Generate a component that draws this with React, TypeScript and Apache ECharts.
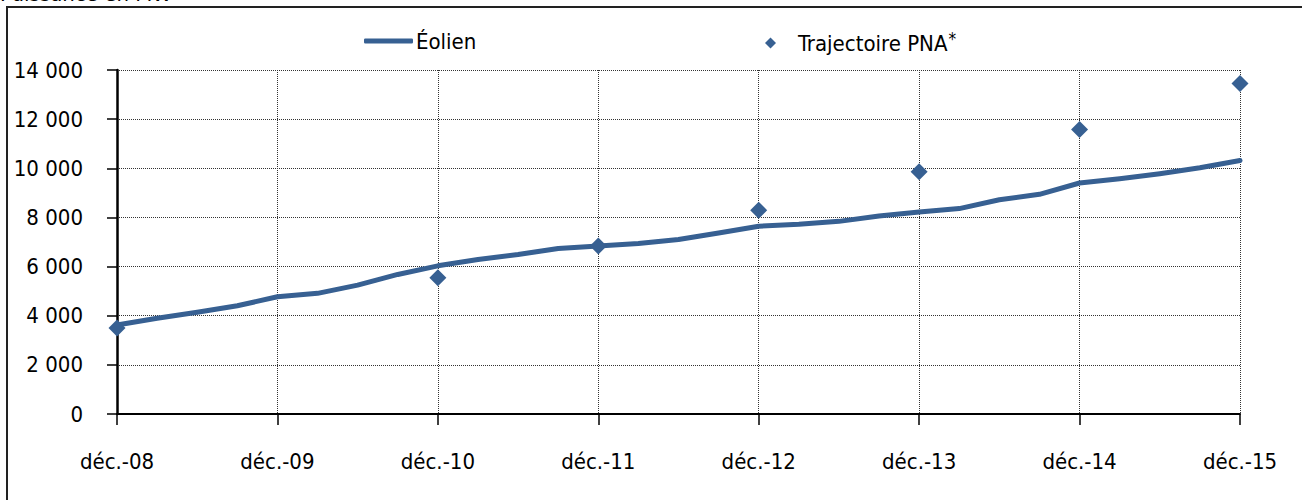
import React, { useEffect, useRef } from "react";
import * as echarts from "echarts";

const quarters = [
  "déc.-08", "mars-09", "juin-09", "sept.-09",
  "déc.-09", "mars-10", "juin-10", "sept.-10",
  "déc.-10", "mars-11", "juin-11", "sept.-11",
  "déc.-11", "mars-12", "juin-12", "sept.-12",
  "déc.-12", "mars-13", "juin-13", "sept.-13",
  "déc.-13", "mars-14", "juin-14", "sept.-14",
  "déc.-14", "mars-15", "juin-15", "sept.-15",
  "déc.-15",
];

const eolien = [
  3620, 3895, 4140, 4405,
  4770, 4910, 5245, 5680,
  6030, 6290, 6490, 6735,
  6840, 6940, 7100, 7370,
  7640, 7720, 7840, 8060,
  8220, 8360, 8720, 8940,
  9400, 9575, 9780, 10020,
  10320,
];

// Trajectoire PNA: only at some December points ("-" = no value)
const pna: (number | string)[] = [
  3500, "-", "-", "-",
  "-", "-", "-", "-",
  5540, "-", "-", "-",
  6840, "-", "-", "-",
  8290, "-", "-", "-",
  9860, "-", "-", "-",
  11580, "-", "-", "-",
  13450,
];

const yTicks = { min: 0, max: 14000, interval: 2000 };
const unitLabel = "Puissance en MW";
const seriesNames = ["Éolien", "Trajectoire PNA*"];

const FONT = "'DejaVu Sans Condensed', 'DejaVu Sans', sans-serif";
const BLUE = "#376092";

function fmt(v: number): string {
  if (v < 1000) return String(v);
  const th = Math.floor(v / 1000);
  const rest = String(v % 1000).padStart(3, "0");
  return `${th} ${rest}`;
}

export default function App() {
  const ref = useRef<HTMLDivElement>(null);
  useEffect(() => {
    if (!ref.current) return;
    const chart = echarts.init(ref.current, undefined, { renderer: "svg" });
    chart.setOption({
      animation: false,
      backgroundColor: "#fff",
      textStyle: { fontFamily: FONT },
      graphic: [
        {
          type: "rect",
          shape: { x: 7, y: 7, width: 1400, height: 600 },
          style: { fill: "none", stroke: "#222", lineWidth: 2 },
          silent: true,
        },
        {
          type: "text",
          x: 0,
          y: 4,
          style: {
            text: unitLabel,
            fontFamily: FONT,
            fontSize: 22,
            fill: "#000",
            verticalAlign: "bottom",
            align: "left",
          },
        },
      ],
      legend: [
        {
          data: [seriesNames[0]],
          left: 359,
          top: 25,
          itemWidth: 49,
          itemHeight: 5,
          icon: "roundRect",
          itemStyle: { color: BLUE },
          textStyle: { fontSize: 22, color: "#000", fontFamily: FONT, padding: [0, 0, 0, -2] },
          selectedMode: false,
        },
        {
          data: [seriesNames[1]],
          left: 760,
          top: 25,
          itemWidth: 11,
          itemHeight: 11,
          icon: "diamond",
          itemStyle: { color: BLUE, opacity: 1 },
          textStyle: {
            fontSize: 22,
            color: "#000",
            fontFamily: FONT,
            rich: {
              a: { fontSize: 22, fontFamily: FONT, color: "#000", padding: [0, 0, 0, 17] },
              s: { fontSize: 17, fontFamily: FONT, color: "#000", verticalAlign: "top", padding: [0, 0, 9, 1] },
            },
          },
          formatter: (name: string) => `{a|${name.slice(0, -1)}}{s|*}`,
          selectedMode: false,
        },
      ],
      grid: { left: 117, right: 62, top: 70, bottom: 86, containLabel: false },
      xAxis: {
        type: "category",
        data: quarters,
        boundaryGap: false,
        axisLine: { lineStyle: { color: "#000", width: 2 } },
        axisTick: { show: true, interval: 3, length: 11, lineStyle: { color: "#000", width: 1.5 } },
        axisLabel: { interval: 3, margin: 36, fontSize: 22, color: "#000", fontFamily: FONT },
        splitLine: { show: true, interval: 3, lineStyle: { color: "#333", type: "dotted", width: 1 } },
      },
      yAxis: {
        type: "value",
        min: yTicks.min,
        max: yTicks.max,
        interval: yTicks.interval,
        axisLine: { show: true, lineStyle: { color: "#000", width: 2.5 } },
        axisTick: { show: true, length: 10, lineStyle: { color: "#000", width: 1.5 } },
        axisLabel: { margin: 34, fontSize: 22, color: "#000", fontFamily: FONT, formatter: fmt },
        splitLine: { show: true, lineStyle: { color: "#333", type: "dotted", width: 1 } },
      },
      series: [
        {
          name: seriesNames[0],
          type: "line",
          data: eolien,
          symbol: "none",
          showSymbol: false,
          lineStyle: { color: BLUE, width: 5, join: "round", cap: "round" },
          itemStyle: { color: BLUE },
          z: 3,
        },
        {
          name: seriesNames[1],
          type: "scatter",
          data: pna,
          symbol: "diamond",
          symbolSize: 17,
          itemStyle: { color: BLUE, opacity: 1 },
          z: 4,
        },
      ],
    });
    return () => chart.dispose();
  }, []);
  return (
    <div
      ref={ref}
      style={{ position: "fixed", left: 0, top: 0, width: 1302, height: 500 }}
    />
  );
}
